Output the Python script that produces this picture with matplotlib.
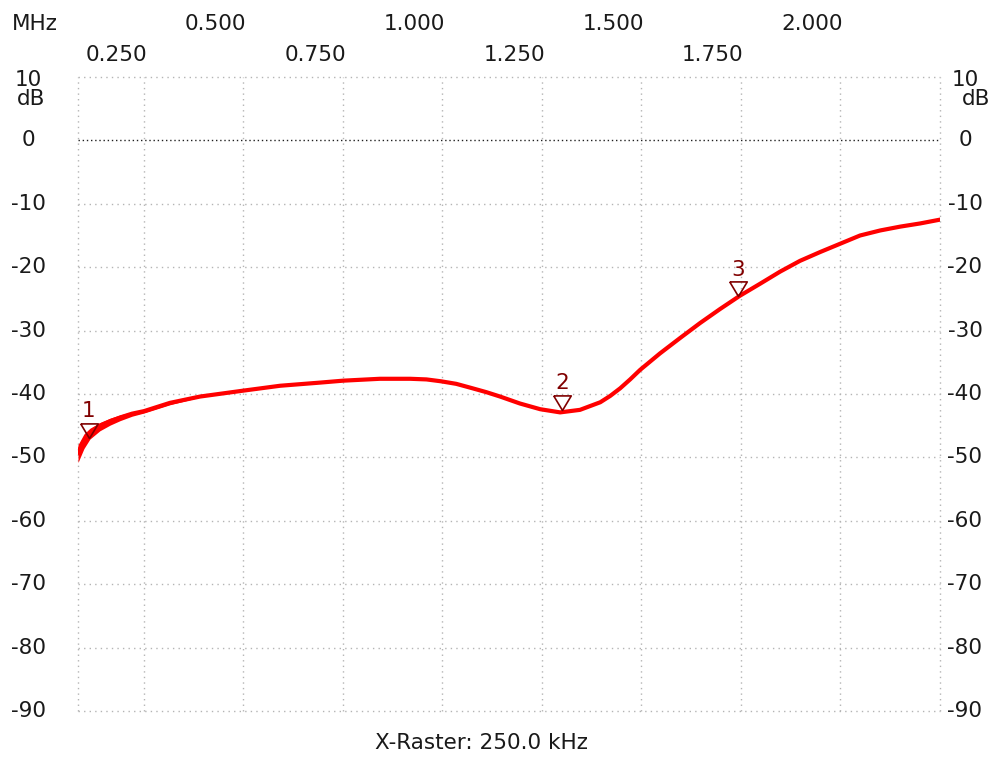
import numpy as np
import matplotlib
matplotlib.use("Agg")
import matplotlib.pyplot as plt
from matplotlib import transforms

# ---- data ----
freq_mhz = [0.084, 0.099, 0.114, 0.139, 0.165, 0.190, 0.220, 0.250, 0.315, 0.391,
            0.496, 0.592, 0.693, 0.750, 0.843, 0.919, 0.960, 0.997, 1.035, 1.070,
            1.110, 1.145, 1.195, 1.246, 1.296, 1.346, 1.397, 1.422, 1.447, 1.472,
            1.497, 1.547, 1.597, 1.648, 1.698, 1.748, 1.799, 1.849, 1.899, 1.950,
            2.000, 2.050, 2.101, 2.151, 2.201, 2.251]
gain_db = [-49.2, -47.4, -46.1, -45.0, -44.3, -43.7, -43.1, -42.7, -41.4, -40.4,
           -39.5, -38.7, -38.2, -37.9, -37.6, -37.6, -37.7, -38.0, -38.4, -39.0,
           -39.7, -40.4, -41.5, -42.4, -42.9, -42.5, -41.3, -40.3, -39.1, -37.7,
           -36.2, -33.6, -31.2, -28.8, -26.6, -24.5, -22.6, -20.7, -19.0, -17.6,
           -16.3, -15.0, -14.2, -13.6, -13.1, -12.5]
# noisy band near the start of the sweep
band_f = [0.084, 0.099, 0.114, 0.139, 0.165, 0.190, 0.220, 0.250, 0.315, 0.391]
band_hi = [-48.0, -46.3, -45.4, -44.5, -43.8, -43.3, -42.8, -42.4, -41.2, -40.3]
band_lo = [-50.8, -48.6, -47.1, -45.8, -44.9, -44.2, -43.5, -43.0, -41.7, -40.5]

marker_f = [0.111, 1.301, 1.744]
marker_db = [-46.9, -42.5, -24.6]
marker_lbl = ["1", "2", "3"]

x_ticks = [0.25, 0.5, 0.75, 1.0, 1.25, 1.5, 1.75, 2.0]
x_row1 = ["0.500", "1.000", "1.500", "2.000"]
x_row1_pos = [0.5, 1.0, 1.5, 2.0]
x_row2 = ["0.250", "0.750", "1.250", "1.750"]
x_row2_pos = [0.25, 0.75, 1.25, 1.75]
y_ticks = [10, 0, -10, -20, -30, -40, -50, -60, -70, -80, -90]
x_min, x_max = 0.084, 2.251

W, H = 991, 758
fig = plt.figure(figsize=(W / 100, H / 100), dpi=100)
fig.patch.set_facecolor("white")
ax = fig.add_axes([78 / W, (H - 711) / H, (940 - 78) / W, (711 - 77) / H])
ax.set_xlim(x_min, x_max)
ax.set_ylim(-90, 10)
for s in ax.spines.values():
    s.set_visible(False)
ax.set_xticks([])
ax.set_yticks([])

grid_kw = dict(color="#b4b4b4", lw=1.0, linestyle=(0, (1, 3)), clip_on=False, zorder=1)
for xv in [x_min] + x_ticks + [x_max]:
    ax.axvline(xv, **grid_kw)
for yv in y_ticks:
    if yv == 0:
        ax.axhline(0, color="#202020", lw=1.0, linestyle=(0, (1, 2)), clip_on=False, zorder=1)
    else:
        ax.axhline(yv, **grid_kw)

# trace
ax.fill_between(band_f, band_lo, band_hi, color="#ff0000", lw=0, zorder=3)
ax.plot(freq_mhz, gain_db, color="#ff0000", lw=3.0, solid_joinstyle="round", zorder=3)

# markers: inverted triangle with tip on the trace
tri = [(-0.6, 1.0), (0.6, 1.0), (0.0, 0.0), (-0.6, 1.0)]
mcol = "#800000"
ax.plot(marker_f, marker_db, linestyle="none", marker=tri, markersize=21,
        markerfacecolor="none", markeredgecolor=mcol, markeredgewidth=1.2, zorder=4)
for f, d, t in zip(marker_f, marker_db, marker_lbl):
    ax.annotate(t, (f, d), xytext=(0, 19), textcoords="offset points",
                ha="center", va="center", color=mcol, fontsize=15.5, zorder=5)

fs = 15.5
tc = "#1a1a1a"
# y labels, left and right
trL = transforms.blended_transform_factory(fig.transFigure, ax.transData)
for yv in y_ticks:
    yy = yv - 0.4 if yv == 10 else yv
    ax.text(28 / W, yy, str(yv), transform=trL, ha="center", va="center",
            fontsize=fs, color=tc)
    ax.text(965 / W, yy, str(yv), transform=trL, ha="center", va="center",
            fontsize=fs, color=tc)
ax.text(31 / W, 6.5, "dB", transform=trL, ha="center", va="center", fontsize=fs, color=tc)
ax.text(976 / W, 6.5, "dB", transform=trL, ha="center", va="center", fontsize=fs, color=tc)

# frequency labels on top (right-aligned to their grid line)
trT = transforms.blended_transform_factory(ax.transData, fig.transFigure) + \
    transforms.ScaledTranslation(3 / 100, 0, fig.dpi_scale_trans)
for p, t in zip(x_row1_pos, x_row1):
    fig.text(p, 1 - 23.5 / H, t, transform=trT, ha="right", va="center", fontsize=fs, color=tc)
for p, t in zip(x_row2_pos, x_row2):
    fig.text(p, 1 - 55 / H, t, transform=trT, ha="right", va="center", fontsize=fs, color=tc)
fig.text(12 / W, 1 - 23.5 / H, "MHz", ha="left", va="center", fontsize=fs, color=tc)

fig.text(481 / W, 1 - 743 / H, "X-Raster: 250.0 kHz", ha="center", va="center",
         fontsize=fs, color=tc)

fig.savefig("out.png", dpi=100, facecolor="white")
